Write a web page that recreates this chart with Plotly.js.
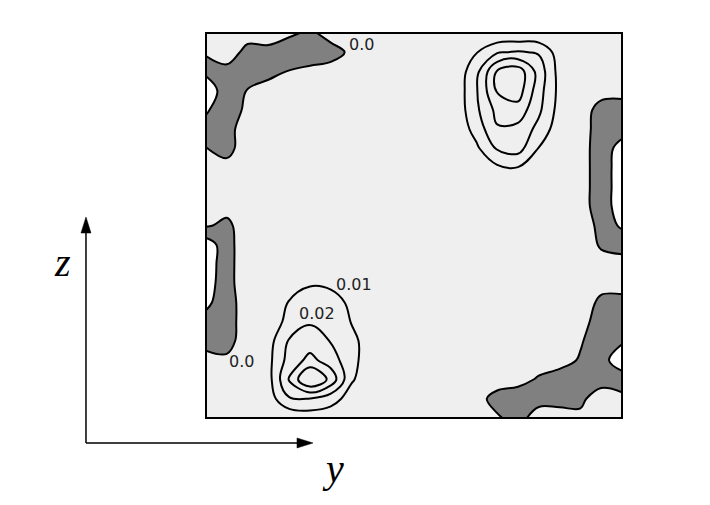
<!DOCTYPE html>
<html>
<head>
<meta charset="utf-8">
<script src="https://cdn.plot.ly/plotly-3.0.1.min.js"></script>
<style>html,body{margin:0;padding:0;background:#fff;}#chart{width:710px;height:505px;}</style>
</head>
<body>
<div id="chart"></div>
<script>
// horizontal coordinate (y) and vertical coordinate (z), normalised duct section
var yPos = [0,0.05,0.1,0.15,0.2,0.25,0.3,0.35,0.4,0.45,0.5,0.55,0.6,0.65,0.7,0.75,0.8,0.85,0.9,0.95,1];
var zPos = [1,0.95,0.9,0.85,0.8,0.75,0.7,0.65,0.6,0.55,0.5,0.45,0.4,0.35,0.3,0.25,0.2,0.15,0.1,0.05,0];

// field values, one row per z position (top row first)
var row00 = [.004,.004,.004,.005,.002,-.002,.004,.005,.005,.005,.005,.005,.004,.002,.001,.001,.001,.003,.004,.004,.004];
var row01 = [.002,.005,-.003,-.003,-.007,-.007,-.004,.002,.004,.005,.005,.005,.003,.0095,.019,.021,.019,.005,.004,.004,.004];
var row02 = [-.008,-.003,-.006,-.003,.0005,.003,.004,.004,.005,.005,.005,.005,.003,.017,.041,.046,.026,.006,.004,.004,.004];
var row03 = [-.016,-.005,.0005,.004,.004,.005,.005,.005,.005,.005,.005,.005,.003,.019,.041,.045,.024,.007,.004,.003,.003];
var row04 = [-.011,-.005,.002,.004,.005,.005,.005,.005,.005,.005,.005,.005,.003,.018,.033,.036,.022,.006,.004,-.003,-.004];
var row05 = [-.007,-.002,.003,.004,.005,.005,.005,.005,.005,.005,.005,.005,.002,.014,.029,.027,.017,.004,.005,-.005,-.007];
var row06 = [.0005,-.003,.005,.005,.005,.005,.005,.005,.005,.005,.005,.005,.003,.008,.021,.024,.0095,.003,.005,-.006,-.013];
var row07 = [.003,.003,.005,.005,.005,.005,.005,.005,.005,.005,.005,.005,.004,.005,.008,.0095,.006,.005,.005,-.006,-.014];
var row08 = [.004,.004,.005,.005,.005,.005,.005,.005,.005,.005,.005,.005,.005,.005,.005,.005,.005,.005,.005,-.006,-.014];
var row09 = [.002,.003,.005,.005,.005,.005,.005,.005,.005,.005,.005,.005,.005,.005,.005,.005,.005,.005,.005,-.006,-.014];
var row10 = [.001,-.002,.005,.005,.005,.005,.005,.005,.005,.005,.005,.005,.005,.005,.005,.005,.005,.005,.006,-.003,-.012];
var row11 = [-.016,-.004,.007,.005,.005,.005,.005,.005,.005,.005,.005,.005,.005,.005,.005,.005,.005,.005,.005,-.001,-.002];
var row12 = [-.016,-.004,.007,.005,.005,.005,.005,.005,.005,.005,.005,.005,.005,.005,.005,.005,.005,.005,.005,.003,.002];
var row13 = [-.015,-.004,.007,.005,.006,.009,.008,.005,.005,.005,.005,.005,.005,.005,.005,.005,.005,.005,.005,.003,.004];
var row14 = [-.012,-.005,.006,.004,.0105,.015,.014,.008,.005,.005,.005,.005,.005,.005,.005,.005,.005,.005,.005,-.002,-.003];
var row15 = [-.007,-.005,.006,.004,.013,.019,.017,.0095,.005,.005,.005,.005,.005,.005,.005,.005,.005,.005,.004,-.005,-.007];
var row16 = [-.003,-.004,.006,.006,.021,.025,.0195,.013,.004,.005,.005,.005,.005,.005,.005,.005,.005,.004,.001,-.006,-.009];
var row17 = [.003,.002,.005,.007,.024,.033,.025,.013,.004,.005,.005,.005,.005,.005,.005,.005,.004,.004,-.001,-.007,-.015];
var row18 = [.004,.004,.005,.006,.031,.052,.037,.011,.004,.005,.005,.005,.005,.005,.004,.003,-.001,-.005,-.006,-.004,-.006];
var row19 = [.004,.004,.004,.005,.019,.0195,.014,.006,.004,.005,.005,.005,.004,.003,-.003,-.005,-.003,-.004,-.002,.005,.003];
var row20 = [.003,.003,.003,.002,.002,.004,.004,.004,.004,.004,.004,.004,.003,.002,.001,-.003,.004,.005,.002,.003,.003];

var levelStart = -0.01, levelEnd = 0.04, levelStep = 0.01;
var labelText = ['0.0', '0.01', '0.02', '0.0'];
var axisNames = ['y', 'z'];

var field = [row00,row01,row02,row03,row04,row05,row06,row07,row08,row09,row10,
             row11,row12,row13,row14,row15,row16,row17,row18,row19,row20];

var trace = {
  type: 'contour',
  x: yPos, y: zPos, z: field,
  autocontour: false,
  contours: {start: levelStart, end: levelEnd, size: levelStep, coloring: 'fill', showlabels: false},
  colorscale: [[0,'#ffffff'],[0.083,'#ffffff'],[0.084,'#808080'],[0.25,'#808080'],[0.251,'#efefef'],[1,'#efefef']],
  line: {color: '#000000', width: 2, smoothing: 1.1},
  showscale: false,
  hoverinfo: 'skip'
};

var labFont = {family: 'DejaVu Sans, sans-serif', size: 16, color: '#222'};
var letterFont = {family: 'Liberation Serif, serif', size: 40, color: '#000', style: 'italic'};

function lab(x, y, text, font) {
  return {xref: 'paper', yref: 'paper', x: x, y: y, text: text, showarrow: false,
          xanchor: 'center', yanchor: 'middle', font: font};
}

var layout = {
  width: 710, height: 505,
  margin: {l: 206, r: 88, t: 33, b: 87, pad: 0},
  paper_bgcolor: '#ffffff', plot_bgcolor: '#efefef',
  showlegend: false,
  xaxis: {range: [0,1], visible: false, fixedrange: true},
  yaxis: {range: [0,1], visible: false, fixedrange: true},
  shapes: [
    {type: 'rect', xref: 'paper', yref: 'paper', x0: 0, x1: 1, y0: 0, y1: 1, line: {color: '#000', width: 2}, layer: 'above'},
    {type: 'line', xref: 'paper', yref: 'paper', x0: -0.2885, x1: -0.2885, y0: -0.0649, y1: 0.49, line: {color: '#000', width: 1.5}},
    {type: 'line', xref: 'paper', yref: 'paper', x0: -0.2885, x1: 0.22, y0: -0.0649, y1: -0.0649, line: {color: '#000', width: 1.5}},
    {type: 'path', xref: 'paper', yref: 'paper', xsizemode: 'pixel', ysizemode: 'pixel', xanchor: -0.2885, yanchor: 0.522,
     path: 'M0,0L-5,-16L5,-16Z', fillcolor: '#000', line: {color: '#000', width: 0.5}},
    {type: 'path', xref: 'paper', yref: 'paper', xsizemode: 'pixel', ysizemode: 'pixel', xanchor: 0.2572, yanchor: -0.0649,
     path: 'M0,0L-16,5L-16,-5Z', fillcolor: '#000', line: {color: '#000', width: 0.5}}
  ],
  annotations: [
    lab(0.3726, 0.970, labelText[0], labFont),
    lab(0.3558, 0.348, labelText[1], labFont),
    lab(0.2668, 0.2714, labelText[2], labFont),
    lab(0.0865, 0.148, labelText[3], labFont),
    lab(0.3053, -0.13, axisNames[0], letterFont),
    lab(-0.346, 0.405, axisNames[1], letterFont)
  ]
};

Plotly.newPlot('chart', [trace], layout, {staticPlot: true, displayModeBar: false});
</script>
</body>
</html>
